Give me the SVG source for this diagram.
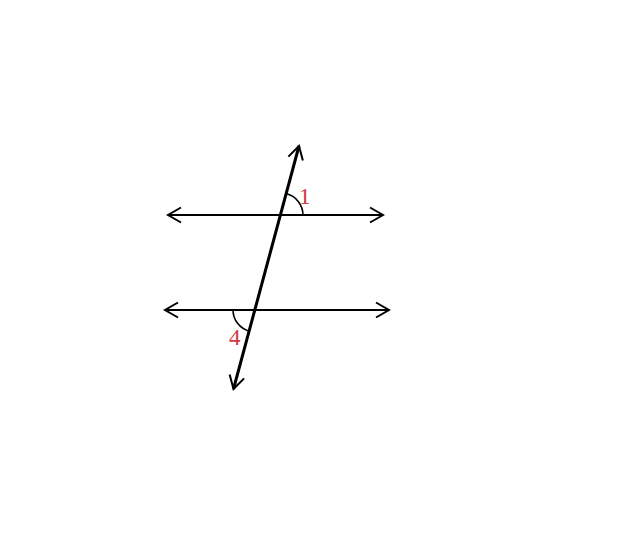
<svg xmlns="http://www.w3.org/2000/svg" width="629" height="540" viewBox="0 0 629 540">
<defs>
<marker id="arr" markerUnits="userSpaceOnUse" markerWidth="24" markerHeight="24" viewBox="-18 -12 24 24" refX="0" refY="0" orient="auto-start-reverse" overflow="visible">
<path d="M-13,-7.5 L0,0 L-13,7.5" fill="none" stroke="#000" stroke-width="2" stroke-linejoin="miter"/>
</marker>
<style>
.ln{stroke:#000;stroke-width:2.2;fill:none}
.tr{stroke:#000;stroke-width:3;fill:none}
.arc{stroke:#000;stroke-width:1.6;fill:none}
.lbl{font-family:"Liberation Serif",serif;font-size:23px;fill:#d0393f}
</style>
</defs>
<rect width="629" height="540" fill="#fff"/>
<g id="connectors">
<line id="line-top" class="ln" x1="168" y1="215" x2="383" y2="215" marker-start="url(#arr)" marker-end="url(#arr)"/>
<line id="line-bottom" class="ln" x1="165" y1="310" x2="389" y2="310" marker-start="url(#arr)" marker-end="url(#arr)"/>
<line id="transversal" class="tr" x1="233.5" y1="389" x2="299" y2="146" marker-start="url(#arr)" marker-end="url(#arr)"/>
</g>
<g id="angle1">
<path class="arc" d="M303,215 A22,22 0 0 0 286.7,193.8"/>
<text class="lbl" x="299" y="204">1</text>
</g>
<g id="angle4">
<path class="arc" d="M233,310 A22,22 0 0 0 249.3,331.2"/>
<text class="lbl" x="229" y="345">4</text>
</g>
</svg>
